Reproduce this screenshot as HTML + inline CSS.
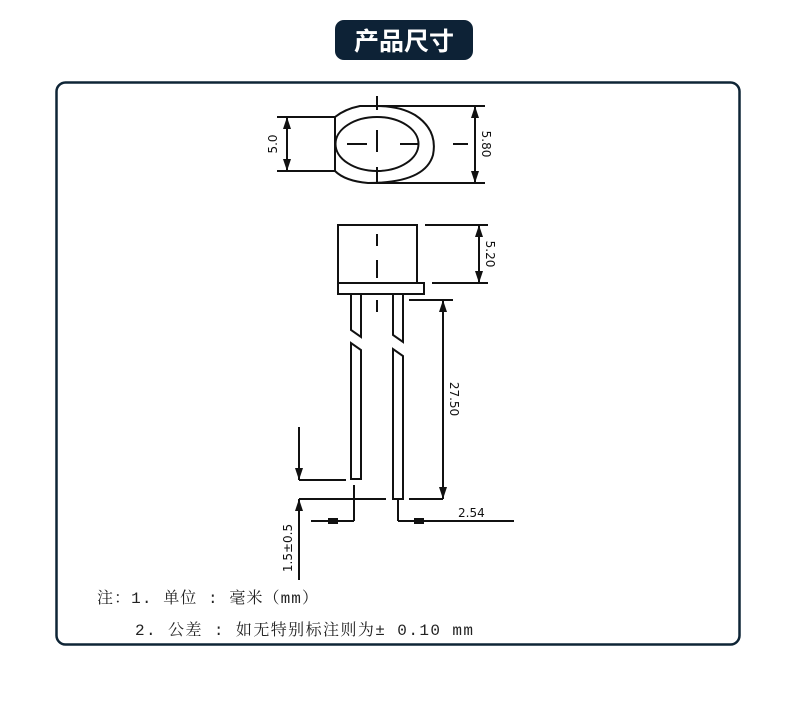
<!DOCTYPE html>
<html><head><meta charset="utf-8"><style>
html,body{margin:0;padding:0;background:#fff;width:790px;height:708px;overflow:hidden}
svg{display:block}
</style></head><body>
<svg width="790" height="708" viewBox="0 0 790 708" xmlns="http://www.w3.org/2000/svg">
<rect x="335" y="20" width="138" height="40" rx="9" fill="#0d2236"/>
<text x="404" y="50" font-family="'Noto Sans CJK SC',sans-serif" font-size="25" font-weight="bold" fill="#fff" text-anchor="middle">产品尺寸</text>
<rect x="56.5" y="82.5" width="683" height="562" rx="9" fill="none" stroke="#0f2536" stroke-width="2.5"/>
<g stroke="#111" stroke-width="2" fill="none">
<ellipse cx="377" cy="144" rx="41.5" ry="27"/>
<path d="M335 117 V171 Q345 181 368 183 Q425 183 433 155 Q438 130 415 115 Q400 106 377 106 L360 106 Q345 109 335 117"/>
<line x1="360" y1="106" x2="485" y2="106"/>
<line x1="368" y1="183" x2="485" y2="183"/>
<line x1="277" y1="117" x2="335" y2="117"/>
<line x1="277" y1="171" x2="335" y2="171"/>
<line x1="287" y1="117" x2="287" y2="171"/>
<line x1="475" y1="106" x2="475" y2="183"/>
<line x1="453" y1="144" x2="468" y2="144"/>
<path d="M377 96V110M377 130V152M377 167V182M347 144H367M400 144H418"/>
<rect x="338" y="225" width="79" height="58"/>
<rect x="338" y="283" width="86" height="11"/>
<path d="M377 234V246M377 260V278M377 300V312"/>
<line x1="425" y1="225" x2="488" y2="225"/>
<line x1="432" y1="283" x2="488" y2="283"/>
<line x1="479" y1="225" x2="479" y2="283"/>
<path d="M351 294V330L361 337V294"/>
<path d="M351 479V343L361 350V479Z"/>
<path d="M393 294V335L403 342V294"/>
<path d="M393 499V349L403 356V499Z"/>
<line x1="409" y1="300" x2="453" y2="300"/>
<line x1="443" y1="300" x2="443" y2="499"/>
<line x1="409" y1="499" x2="443" y2="499"/>
<line x1="299" y1="427" x2="299" y2="480"/>
<line x1="299" y1="480" x2="346" y2="480"/>
<line x1="299" y1="499" x2="386" y2="499"/>
<line x1="299" y1="499" x2="299" y2="580"/>
<line x1="354" y1="485" x2="354" y2="521"/>
<line x1="398" y1="499" x2="398" y2="521"/>
<line x1="311" y1="521" x2="354" y2="521"/>
<line x1="398" y1="521" x2="514" y2="521"/>
</g>
<g fill="#111">
<path d="M287 117l-4 12h8zM287 171l-4 -12h8z"/>
<path d="M475 106l-4 12h8zM475 183l-4 -12h8z"/>
<path d="M479 225l-4 12h8zM479 283l-4 -12h8z"/>
<path d="M443 300l-4 12h8zM443 499l-4 -12h8z"/>
<path d="M299 480l-4 -12h8zM299 499l-4 12h8z"/>
<path d="M328 518h10v6h-10zM414 518h10v6h-10z"/>
</g>
<g font-family="'DejaVu Sans','Liberation Sans',sans-serif" font-size="12" fill="#111">
<text transform="translate(277,144) rotate(-90)" text-anchor="middle">5.0</text>
<text transform="translate(482,144) rotate(90)" text-anchor="middle">5.80</text>
<text transform="translate(486,254) rotate(90)" text-anchor="middle">5.20</text>
<text transform="translate(450,399) rotate(90)" text-anchor="middle">27.50</text>
<text transform="translate(292,548) rotate(-90)" text-anchor="middle">1.5±0.5</text>
<text x="458" y="517">2.54</text>
</g>
<g font-family="'Liberation Mono','Noto Serif CJK SC',monospace" font-size="16" fill="#222">
<text x="97" y="603" textLength="221" lengthAdjust="spacing">注：1. 单位 : 毫米（mm）</text>
<text x="135" y="635" textLength="338" lengthAdjust="spacing">2. 公差 : 如无特别标注则为± 0.10 mm</text>
</g>
</svg>
</body></html>
